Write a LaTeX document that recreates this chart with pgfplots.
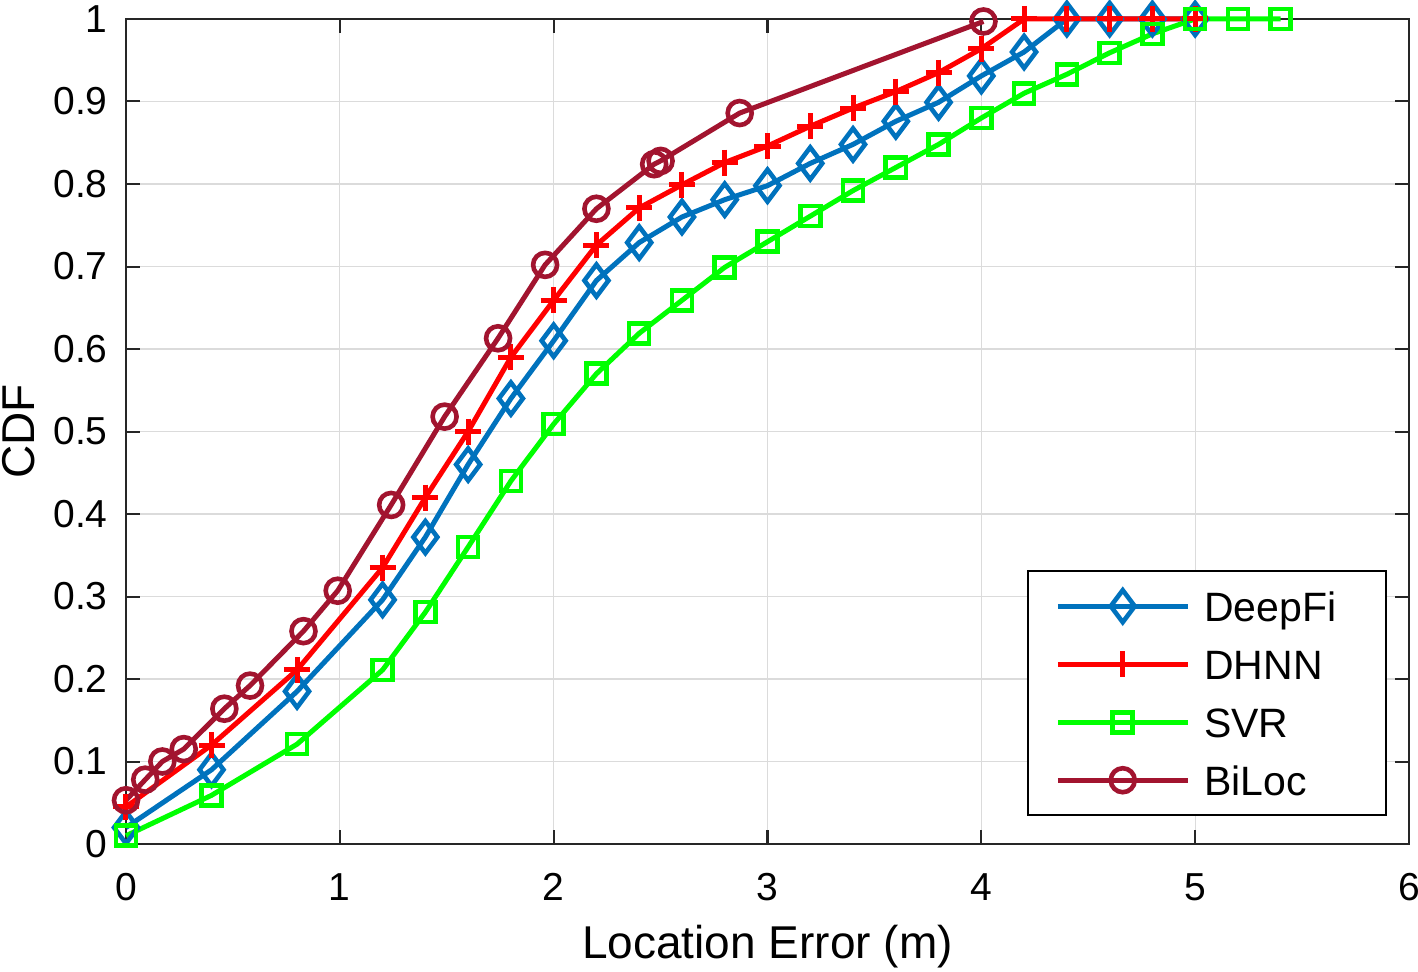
\documentclass[border=0pt]{standalone}
\usepackage{pgfplots}
\pgfplotsset{compat=1.18}
\usepackage{fontspec}
\setmainfont{Liberation Sans}
\definecolor{mblue}{rgb}{0,0.447,0.741}
\definecolor{mred}{rgb}{1,0,0}
\definecolor{mgreen}{rgb}{0,1,0}
\definecolor{mdark}{rgb}{0.635,0.078,0.184}
\begin{document}
\begin{tikzpicture}
\path[use as bounding box] (-63pt,-63.5pt) rectangle (646pt,422pt);
\begin{axis}[
  at={(0pt,0pt)}, anchor=south west,
  scale only axis,
  width=641.5pt, height=412.5pt,
  xmin=0, xmax=6, ymin=0, ymax=1,
  clip=false,
  xtick={0,1,2,3,4,5,6},
  ytick={0,0.1,0.2,0.3,0.4,0.5,0.6,0.7,0.8,0.9,1},
  yticklabels={0,0.1,0.2,0.3,0.4,0.5,0.6,0.7,0.8,0.9,1},
  /pgf/number format/assume math mode=true,
  tick label style={font=\fontsize{19.5}{22}\selectfont},
  yticklabel style={anchor=east, inner sep=0pt, xshift=-9pt},
  xticklabel style={anchor=north, inner sep=0pt, yshift=-14.5pt},
  xlabel={Location Error (m)},
  ylabel={CDF},
  xlabel style={font=\fontsize{23}{26}\selectfont, at={(rel axis cs:0.5,0)}, anchor=base, yshift=-57pt, inner sep=0pt},
  ylabel style={font=\fontsize{23}{26}\selectfont, at={(rel axis cs:0,0.5)}, anchor=base, yshift=45.5pt, inner sep=0pt},
  grid=major,
  major grid style={line width=0.6pt, draw=black!14},
  axis line style={line width=1pt, black!85},
  tick style={line width=1pt, black!85},
  tick align=inside,
  major tick length=7pt,
  xtick pos=both, ytick pos=both,
  legend style={at={(0.9829,0.0339)}, anchor=south east, draw=black, line width=0.8pt,
    font=\fontsize{20.5}{24}\selectfont, inner xsep=13.5pt, inner ysep=3pt,
    row sep=0pt, column sep=7pt,
    nodes={inner sep=0pt, text height=22pt, text depth=7pt, text width=77.5pt}},
  legend cell align=left,
  legend image code/.code={\draw[#1, mark repeat=2, mark phase=2] plot coordinates {(0pt,0pt) (32.5pt,0pt) (65pt,0pt)};},
  every axis plot/.append style={line width=2.5pt},
]
\addplot[mblue, mark=diamond, mark size=8pt, mark options={solid, line width=2.3pt}] coordinates {
(0,0.02)(0.4,0.09)(0.8,0.185)(1.2,0.296)(1.4,0.372)(1.6,0.46)(1.8,0.54)(2.0,0.61)(2.2,0.683)(2.4,0.729)(2.6,0.76)(2.8,0.781)(3.0,0.798)(3.2,0.825)(3.4,0.848)(3.6,0.876)(3.8,0.899)(4.0,0.931)(4.2,0.96)(4.4,1)(4.6,1)(4.8,1)(5.0,1)};
\addlegendentry{DeepFi}
\addplot[mred, mark=+, mark size=6.5pt, mark options={solid, line width=2.5pt}] coordinates {
(0,0.045)(0.4,0.12)(0.8,0.211)(1.2,0.335)(1.4,0.42)(1.6,0.50)(1.8,0.59)(2.0,0.659)(2.2,0.726)(2.4,0.771)(2.6,0.799)(2.8,0.826)(3.0,0.846)(3.2,0.87)(3.4,0.892)(3.6,0.912)(3.8,0.935)(4.0,0.964)(4.2,1)(4.4,1)(4.6,1)(4.8,1)(5.0,1)};
\addlegendentry{DHNN}
\addplot[mgreen, mark=square, mark size=5pt, mark options={solid, line width=2.3pt}] coordinates {
(0,0.01)(0.4,0.059)(0.8,0.121)(1.2,0.211)(1.4,0.281)(1.6,0.36)(1.8,0.44)(2.0,0.509)(2.2,0.57)(2.4,0.619)(2.6,0.659)(2.8,0.699)(3.0,0.73)(3.2,0.761)(3.4,0.792)(3.6,0.82)(3.8,0.848)(4.0,0.88)(4.2,0.91)(4.4,0.933)(4.6,0.959)(4.8,0.982)(5.0,1)(5.2,1)(5.4,1)};
\addlegendentry{SVR}
\addplot[mdark, mark=o, mark size=6pt, mark options={solid, line width=2.3pt}] coordinates {
(0,0.053)(0.09,0.078)(0.17,0.10)(0.27,0.115)(0.46,0.164)(0.58,0.192)(0.83,0.258)(0.99,0.307)(1.24,0.411)(1.49,0.518)(1.74,0.613)(1.96,0.702)(2.2,0.77)(2.47,0.824)(2.5,0.828)(2.87,0.886)(4.01,0.997)};
\addlegendentry{BiLoc}
\end{axis}
\end{tikzpicture}
\end{document}
